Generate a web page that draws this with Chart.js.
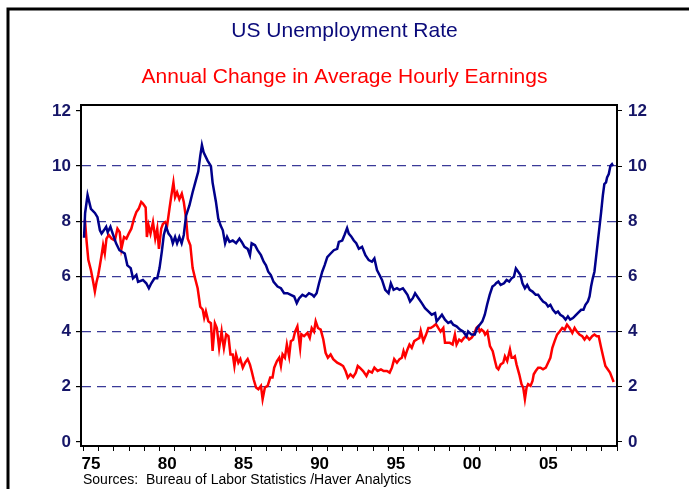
<!DOCTYPE html>
<html>
<head>
<meta charset="utf-8">
<script src="https://cdn.jsdelivr.net/npm/chart.js@4/dist/chart.umd.min.js"></script>
<style>
  html, body { margin: 0; padding: 0; background: #fff; }
  #wrap { width: 689px; height: 489px; }
</style>
</head>
<body>
<div id="wrap"><canvas id="chart" width="689" height="489"></canvas></div>
<script>
// US unemployment rate (%)
const unempYears = [
    1975.05, 1975.12, 1975.28, 1975.5, 1975.76, 1975.93, 1976.09, 1976.2, 1976.35, 1976.5,
    1976.6, 1976.78, 1976.93, 1977.15, 1977.37, 1977.72, 1977.89, 1978.11, 1978.26, 1978.48,
    1978.59, 1978.91, 1979.13, 1979.3, 1979.46, 1979.67, 1979.85, 1980.0, 1980.15, 1980.28,
    1980.43, 1980.59, 1980.76, 1980.87, 1981.02, 1981.15, 1981.3, 1981.45, 1981.59, 1981.74,
    1981.96, 1982.17, 1982.39, 1982.54, 1982.67, 1982.78, 1982.89, 1983.15, 1983.37, 1983.48,
    1983.7, 1983.85, 1984.0, 1984.15, 1984.3, 1984.43, 1984.59, 1984.8, 1985.02, 1985.24,
    1985.39, 1985.57, 1985.78, 1985.93, 1986.04, 1986.26, 1986.43, 1986.65, 1986.83, 1986.98,
    1987.13, 1987.3, 1987.48, 1987.74, 1987.96, 1988.17, 1988.39, 1988.61, 1988.83, 1989.0,
    1989.15, 1989.37, 1989.59, 1989.8, 1990.02, 1990.13, 1990.3, 1990.46, 1990.67, 1990.83,
    1991.0, 1991.22, 1991.43, 1991.65, 1991.76, 1991.98, 1992.13, 1992.3, 1992.41, 1992.57,
    1992.74, 1992.9, 1993.07, 1993.28, 1993.5, 1993.72, 1993.93, 1994.09, 1994.26, 1994.43,
    1994.59, 1994.8, 1995.02, 1995.17, 1995.35, 1995.57, 1995.74, 1995.96, 1996.11, 1996.26,
    1996.43, 1996.61, 1996.76, 1996.98, 1997.2, 1997.41, 1997.63, 1997.85, 1998.07, 1998.17,
    1998.35, 1998.52, 1998.72, 1998.93, 1999.11, 1999.26, 1999.48, 1999.7, 1999.91, 2000.13,
    2000.24, 2000.46, 2000.67, 2000.83, 2001.0, 2001.17, 2001.33, 2001.48, 2001.65, 2001.83,
    2001.98, 2002.07, 2002.22, 2002.37, 2002.59, 2002.76, 2002.93, 2003.09, 2003.24, 2003.37,
    2003.52, 2003.67, 2003.8, 2003.96, 2004.11, 2004.28, 2004.46, 2004.67, 2004.83, 2004.98,
    2005.15, 2005.33, 2005.48, 2005.63, 2005.8, 2005.98, 2006.13, 2006.28, 2006.46, 2006.63,
    2006.78, 2006.93, 2007.11, 2007.22, 2007.43, 2007.65, 2007.8, 2007.93, 2008.09, 2008.2,
    2008.3, 2008.41, 2008.52, 2008.63, 2008.74, 2008.85, 2008.96, 2009.07, 2009.17, 2009.28,
    2009.35, 2009.46, 2009.57, 2009.67, 2009.74
];
const unempRate = [
    7.4, 8.3, 8.95, 8.45, 8.3, 8.15, 7.67, 7.55, 7.67, 7.8,
    7.6, 7.8, 7.55, 7.2, 6.95, 6.83, 6.4, 6.3, 5.93, 6.05,
    5.8, 5.87, 5.75, 5.57, 5.75, 5.93, 5.93, 6.3, 6.9, 7.5,
    7.8, 7.55, 7.43, 7.2, 7.43, 7.2, 7.43, 7.2, 7.5, 8.2,
    8.57, 9.05, 9.5, 9.8, 10.37, 10.76, 10.5, 10.2, 10.0, 9.4,
    8.7, 8.1, 7.85, 7.67, 7.2, 7.43, 7.25, 7.3, 7.2, 7.37,
    7.25, 7.07, 7.0, 6.77, 7.2, 7.13, 6.95, 6.77, 6.53, 6.4,
    6.17, 6.05, 5.8, 5.63, 5.57, 5.39, 5.39, 5.33, 5.27, 5.03,
    5.2, 5.33, 5.27, 5.39, 5.33, 5.27, 5.39, 5.75, 6.17, 6.41,
    6.7, 6.83, 6.95, 7.0, 7.25, 7.3, 7.5, 7.75, 7.55, 7.45,
    7.3, 7.2, 7.0, 7.07, 6.77, 6.59, 6.53, 6.65, 6.23, 6.05,
    5.87, 5.51, 5.39, 5.75, 5.51, 5.57, 5.51, 5.57, 5.45, 5.33,
    5.09, 5.21, 5.39, 5.21, 5.03, 4.85, 4.73, 4.61, 4.67, 4.37,
    4.49, 4.61, 4.43, 4.31, 4.37, 4.25, 4.19, 4.07, 4.0, 3.83,
    4.0, 3.89, 3.89, 4.13, 4.25, 4.37, 4.61, 4.97, 5.33, 5.63,
    5.69, 5.75, 5.81, 5.69, 5.75, 5.87, 5.81, 5.93, 5.99, 6.29,
    6.17, 6.05, 5.75, 5.57, 5.69, 5.51, 5.45, 5.33, 5.33, 5.21,
    5.09, 5.03, 4.91, 4.97, 4.79, 4.67, 4.73, 4.61, 4.55, 4.43,
    4.55, 4.43, 4.49, 4.55, 4.67, 4.79, 4.79, 4.97, 5.09, 5.27,
    5.63, 5.93, 6.17, 6.71, 7.25, 7.79, 8.33, 8.93, 9.35, 9.41,
    9.59, 9.71, 10.01, 10.07, 10.0
];

// Annual change in average hourly earnings (%)
const earnYears = [
    1975.05, 1975.11, 1975.22, 1975.33, 1975.5, 1975.65, 1975.76, 1975.87, 1975.98, 1976.09,
    1976.2, 1976.3, 1976.41, 1976.52, 1976.67, 1976.85, 1977.07, 1977.24, 1977.39, 1977.5,
    1977.67, 1977.83, 1977.98, 1978.15, 1978.33, 1978.48, 1978.63, 1978.8, 1978.91, 1979.09,
    1979.17, 1979.28, 1979.41, 1979.57, 1979.72, 1979.85, 1979.96, 1980.11, 1980.22, 1980.37,
    1980.5, 1980.65, 1980.76, 1980.91, 1981.02, 1981.15, 1981.3, 1981.46, 1981.59, 1981.74,
    1981.85, 1982.02, 1982.17, 1982.33, 1982.5, 1982.67, 1982.83, 1982.93, 1983.04, 1983.2,
    1983.37, 1983.48, 1983.63, 1983.76, 1983.91, 1984.07, 1984.15, 1984.22, 1984.37, 1984.52,
    1984.65, 1984.8, 1984.91, 1985.02, 1985.17, 1985.3, 1985.46, 1985.61, 1985.78, 1985.93,
    1986.04, 1986.17, 1986.33, 1986.48, 1986.65, 1986.76, 1986.91, 1987.09, 1987.26, 1987.41,
    1987.52, 1987.7, 1987.85, 1987.96, 1988.07, 1988.22, 1988.35, 1988.5, 1988.61, 1988.76,
    1988.89, 1989.04, 1989.22, 1989.3, 1989.48, 1989.7, 1989.85, 1989.98, 1990.13, 1990.24,
    1990.39, 1990.57, 1990.74, 1990.89, 1991.04, 1991.22, 1991.39, 1991.65, 1991.87, 1992.04,
    1992.2, 1992.35, 1992.52, 1992.7, 1992.87, 1993.0, 1993.13, 1993.35, 1993.57, 1993.72,
    1993.93, 1994.09, 1994.3, 1994.52, 1994.7, 1994.91, 1995.09, 1995.24, 1995.39, 1995.57,
    1995.74, 1995.89, 1996.0, 1996.11, 1996.26, 1996.39, 1996.54, 1996.7, 1996.87, 1997.04,
    1997.13, 1997.3, 1997.48, 1997.63, 1997.78, 1997.96, 1998.13, 1998.28, 1998.43, 1998.61,
    1998.72, 1998.87, 1999.04, 1999.22, 1999.37, 1999.48, 1999.65, 1999.8, 1999.96, 2000.13,
    2000.3, 2000.46, 2000.61, 2000.78, 2000.89, 2001.0, 2001.11, 2001.26, 2001.35, 2001.5,
    2001.67, 2001.85, 2002.0, 2002.11, 2002.22, 2002.37, 2002.54, 2002.65, 2002.8, 2002.98,
    2003.09, 2003.2, 2003.3, 2003.41, 2003.59, 2003.74, 2003.85, 2003.96, 2004.07, 2004.17,
    2004.33, 2004.46, 2004.54, 2004.67, 2004.83, 2004.98, 2005.15, 2005.33, 2005.48, 2005.63,
    2005.76, 2005.91, 2006.07, 2006.24, 2006.41, 2006.57, 2006.72, 2006.89, 2007.07, 2007.22,
    2007.37, 2007.54, 2007.72, 2007.87, 2008.02, 2008.2, 2008.37, 2008.52, 2008.67, 2008.8,
    2008.96, 2009.11, 2009.24, 2009.39, 2009.54, 2009.67, 2009.78
];
const earnChange = [
    8.05, 8.03, 7.25, 6.6, 6.23, 5.8, 5.45, 5.8, 6.05, 6.4,
    6.77, 7.13, 6.83, 7.37, 7.5, 7.37, 7.3, 7.73, 7.6, 7.0,
    7.43, 7.37, 7.55, 7.73, 8.1, 8.33, 8.45, 8.7, 8.64, 8.5,
    7.43, 7.85, 7.55, 7.97, 7.37, 7.73, 7.0, 7.73, 7.9, 7.97,
    7.85, 8.45, 8.87, 9.4, 8.87, 9.05, 8.8, 9.0, 8.7, 8.1,
    7.37, 7.13, 6.3, 5.93, 5.57, 4.9, 4.8, 4.5, 4.73, 4.37,
    4.3, 3.3, 4.3, 4.13, 3.4, 4.0, 3.65, 3.4, 3.9, 3.83,
    3.17, 3.17, 2.75, 3.17, 2.87, 3.0, 2.69, 2.87, 3.0, 2.8,
    2.57, 2.27, 1.97, 1.91, 2.03, 1.55, 1.97, 2.03, 2.33, 2.33,
    2.69, 2.93, 3.05, 2.75, 3.17, 3.05, 3.53, 3.1, 3.65, 3.7,
    4.0, 4.19, 3.4, 3.9, 3.83, 3.95, 3.77, 4.13, 4.0, 4.37,
    4.13, 4.07, 3.71, 3.23, 3.05, 3.17, 3.0, 2.87, 2.81, 2.75,
    2.57, 2.33, 2.45, 2.35, 2.51, 2.75, 2.69, 2.57, 2.39, 2.57,
    2.51, 2.69, 2.57, 2.63, 2.57, 2.57, 2.51, 2.69, 3.0, 2.87,
    3.0, 3.05, 3.29, 3.1, 3.35, 3.53, 3.41, 3.65, 3.71, 3.77,
    4.03, 3.65, 3.89, 4.13, 4.13, 4.19, 4.27, 4.13, 4.0, 4.13,
    3.59, 3.59, 3.59, 3.53, 3.89, 3.53, 3.71, 3.65, 3.77, 3.83,
    3.71, 3.77, 3.89, 4.13, 4.19, 4.0, 4.07, 4.0, 3.89, 4.0,
    3.47, 3.29, 2.93, 2.69, 2.63, 2.81, 2.87, 3.1, 2.93, 3.35,
    3.05, 3.05, 3.1, 2.81, 2.45, 2.09, 1.97, 1.55, 1.97, 2.09,
    2.03, 2.21, 2.45, 2.57, 2.69, 2.69, 2.63, 2.69, 2.87, 3.05,
    3.41, 3.65, 3.89, 4.0, 4.13, 4.07, 4.25, 4.13, 3.95, 4.13,
    4.0, 3.89, 3.83, 3.71, 3.83, 3.71, 3.83, 3.89, 3.83, 3.83,
    3.41, 3.05, 2.75, 2.63, 2.51, 2.33, 2.17
];

// Axis ticks
const yTicks = [0, 2, 4, 6, 8, 10, 12];
const xLabelYears = [1975, 1980, 1985, 1990, 1995, 2000, 2005];
const xFirstYear = 1975;
const xLastYear = 2010;

const navy = '#00008B';
const tickNavy = '#161668';
const fontFamily = "'Liberation Sans', Arial, sans-serif";

// Outer frame and sources note
const framePlugin = {
    id: 'frame',
    beforeDraw(chart) {
        const ctx = chart.ctx;
        ctx.save();
        ctx.fillStyle = '#fff';
        ctx.fillRect(0, 0, chart.width, chart.height);
        ctx.restore();
    },
    afterDraw(chart) {
        const ctx = chart.ctx;
        ctx.save();
        ctx.strokeStyle = '#000';
        ctx.lineWidth = 3;
        ctx.beginPath();
        ctx.moveTo(8, chart.height + 2);
        ctx.lineTo(8, 9);
        ctx.lineTo(chart.width + 2, 9);
        ctx.stroke();
        ctx.fillStyle = '#000';
        ctx.font = '14px ' + fontFamily;
        ctx.textBaseline = 'middle';
        ctx.textAlign = 'left';
        ctx.fillText('Sources:  Bureau of Labor Statistics /Haver Analytics', 83, 480);
        ctx.restore();
    }
};

function yearTicks(scale) {
    const ticks = [];
    for (let y = xFirstYear; y <= xLastYear; y++) ticks.push({ value: y });
    scale.ticks = ticks;
}

function valueTicks(scale) {
    scale.ticks = yTicks.map(v => ({ value: v }));
}

const tickFont = { family: fontFamily, size: 17, weight: 'bold' };

new Chart(document.getElementById('chart').getContext('2d'), {
    type: 'line',
    data: {
        datasets: [{
            label: 'US Unemployment Rate',
            data: unempYears.map((x, i) => ({ x: x, y: unempRate[i] })),
            borderColor: navy,
            borderWidth: 2.5,
            pointRadius: 0,
            tension: 0,
            xAxisID: 'x',
            yAxisID: 'y'
        }, {
            label: 'Annual Change in Average Hourly Earnings',
            data: earnYears.map((x, i) => ({ x: x, y: earnChange[i] })),
            borderColor: '#FF0000',
            borderWidth: 2.5,
            pointRadius: 0,
            tension: 0,
            xAxisID: 'x',
            yAxisID: 'y'
        }]
    },
    options: {
        responsive: false,
        animation: false,
        layout: { padding: { left: 0, right: 0, top: 0, bottom: 0 } },
        plugins: {
            legend: { display: false },
            tooltip: { enabled: false },
            title: {
                display: true,
                text: 'US Unemployment Rate',
                color: '#0A0A7A',
                font: { family: fontFamily, size: 21, weight: 'normal' },
                padding: { top: 19, bottom: 20 }
            },
            subtitle: {
                display: true,
                text: 'Annual Change in Average Hourly Earnings',
                color: '#FF0000',
                font: { family: fontFamily, size: 21, weight: 'normal' },
                padding: { top: 0, bottom: 16 }
            }
        },
        scales: {
            x: {
                type: 'linear',
                position: 'bottom',
                min: 1974.85,
                max: 2010,
                afterBuildTicks: yearTicks,
                afterFit: s => { s.height = 43; },
                ticks: {
                    autoSkip: false,
                    maxRotation: 0,
                    labelOffset: 7.6,
                    padding: 3,
                    color: '#000',
                    font: tickFont,
                    callback: v => xLabelYears.includes(v) ? String(v).slice(2) : ''
                },
                grid: { drawOnChartArea: false, tickLength: 5, tickColor: '#000', tickWidth: 1 },
                border: { color: '#000', width: 2 }
            },
            xTop: {
                type: 'linear',
                position: 'top',
                min: 1974.85,
                max: 2010,
                afterFit: s => { s.height = 0; },
                ticks: { display: false },
                grid: { drawOnChartArea: false, drawTicks: false },
                border: { color: '#000', width: 2 }
            },
            y: {
                type: 'linear',
                position: 'left',
                min: -0.15,
                max: 12.2,
                afterBuildTicks: valueTicks,
                afterFit: s => { s.width = 81; },
                ticks: { color: tickNavy, font: tickFont, padding: 5 },
                grid: {
                    color: c => (c.tick && c.tick.value > 0 && c.tick.value < 12) ? '#3A3A98' : 'rgba(0,0,0,0)',
                    lineWidth: 1.2,
                    tickColor: '#000',
                    tickLength: 5
                },
                border: { color: '#000', width: 2, dash: [9, 6] }
            },
            y2: {
                type: 'linear',
                position: 'right',
                min: -0.15,
                max: 12.2,
                afterBuildTicks: valueTicks,
                afterFit: s => { s.width = 72; },
                ticks: { color: tickNavy, font: tickFont, padding: 6 },
                grid: { drawOnChartArea: false, tickColor: '#000', tickLength: 5 },
                border: { color: '#000', width: 2 }
            }
        }
    },
    plugins: [framePlugin]
});
</script>
</body>
</html>
